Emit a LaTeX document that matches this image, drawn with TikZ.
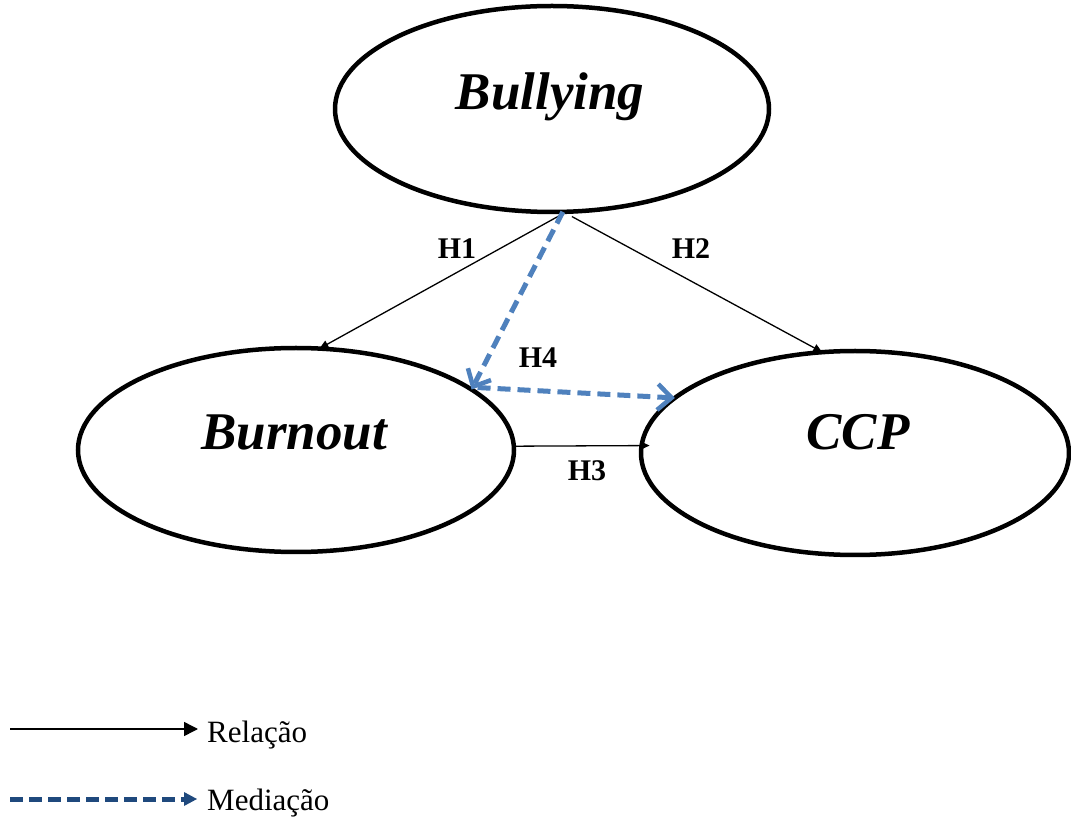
\documentclass[tikz,border=0pt]{standalone}
\usepackage{fontspec}
\setmainfont{Liberation Serif}
\usetikzlibrary{shapes.geometric,arrows.meta}
\definecolor{medblue}{HTML}{4F81BD}
\definecolor{darkblue}{HTML}{1F497D}
\tikzset{
  latent/.style={ellipse, draw=black, line width=4.5pt, inner sep=0pt, outer sep=0pt},
  bigtxt/.style={font=\fontsize{53}{60}\selectfont\bfseries\itshape, inner sep=0pt, anchor=base},
  hlab/.style={font=\fontsize{30}{34}\selectfont\bfseries, inner sep=0pt},
  rel/.style={draw=black, line width=1.3pt, -{Triangle[length=9pt,width=8pt]}},
  med/.style={draw=medblue, line width=5pt, dash pattern=on 13pt off 7pt, -{Straight Barb[length=14pt,width=26pt,line width=4.5pt]}},
  legtxt/.style={font=\fontsize{31}{36}\selectfont, inner sep=0pt, anchor=base west},
}
\begin{document}
\begin{tikzpicture}[x=1pt,y=1pt]
\useasboundingbox (0,0) rectangle (1071,820);
% ellipses
\node[latent, minimum width=434pt, minimum height=206pt] (bul) at (552,711) {};
\node[latent, minimum width=436pt, minimum height=204pt] (bur) at (296,370) {};
\node[latent, minimum width=428pt, minimum height=204pt] (ccp) at (855,367) {};
% texts
\node[bigtxt] (tbul) at (550,710) {Bullying};
\node[bigtxt] (tbur) at (294,370) {Burnout};
\node[bigtxt] (tccp) at (858,370) {CCP};
% relations
\draw[rel] (bul.-82.4) -- (bur.77);
\draw[rel] ([yshift=-5pt]bul.-79) -- (ccp.108.8);
\draw[rel] (bur.1.5) -- ([xshift=8pt]ccp.178);
% mediation
\draw[med] (bul.-84) -- (bur.19.3);
\draw[med] ([xshift=6pt,yshift=2pt]bur.19.3) -- (ccp.163.4);
% labels
\node[hlab] (h1) at (457,571) {H1};
\node[hlab] (h2) at (691,571) {H2};
\node[hlab] (h4) at (538,462) {H4};
\node[hlab] (h3) at (587,349) {H3};
% legend
\node[legtxt] (lrel) at (207,78) {Relação};
\node[legtxt] (lmed) at (207,10) {Mediação};
\coordinate (la) at (10,91);
\coordinate (lb) at (10,21);
\draw[draw=black, line width=1.5pt, -{Triangle[length=14pt,width=14pt]}, shorten >=9pt] (la) -- (la -| lrel.west);
\draw[draw=darkblue, line width=5pt, dash pattern=on 13pt off 6pt, -{Triangle[length=13pt,width=14pt,line width=0pt]}, shorten >=10pt] (lb) -- (lb -| lmed.west);
\end{tikzpicture}
\end{document}
